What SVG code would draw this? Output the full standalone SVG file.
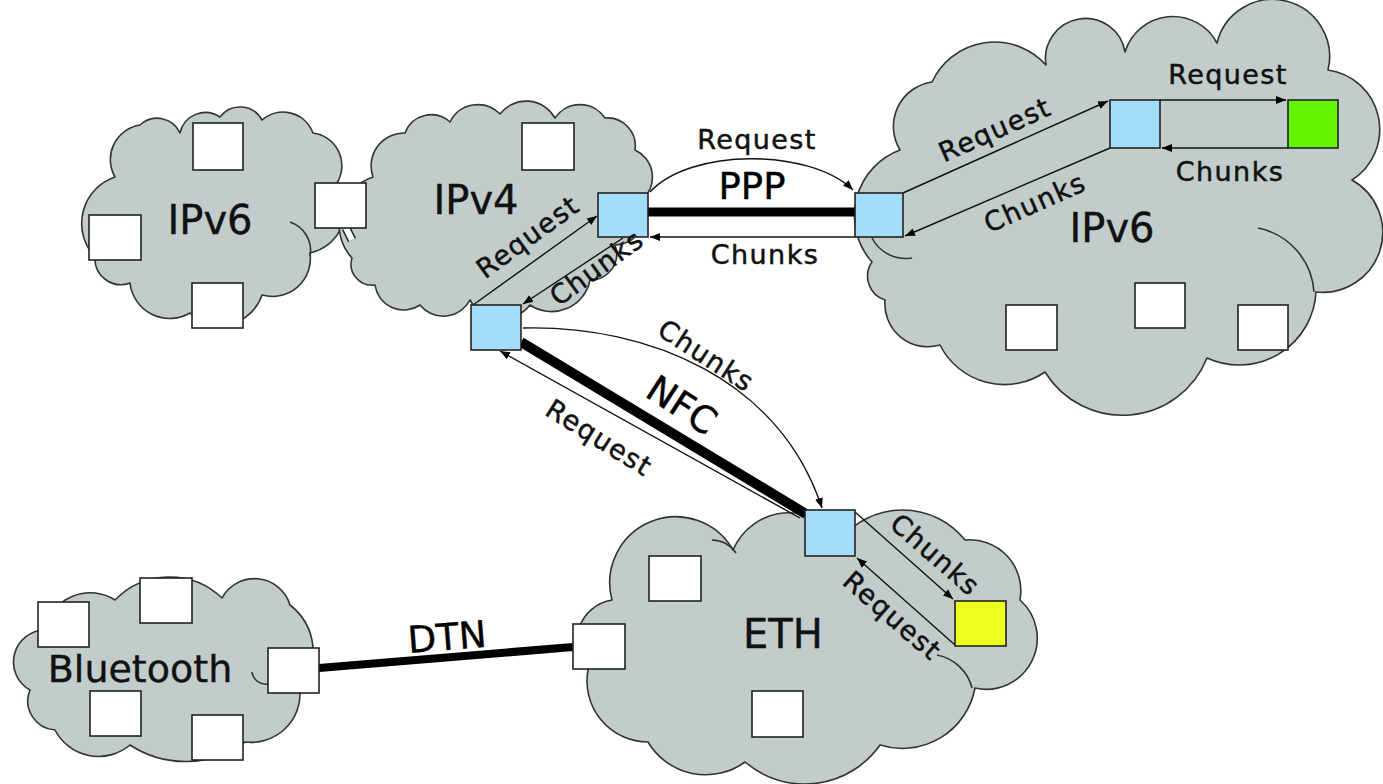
<svg xmlns="http://www.w3.org/2000/svg" width="1383" height="784" viewBox="0 0 1383 784">
<defs>
<style>
.cloud{fill:#c1cccb;stroke:#333;stroke-width:1.6;stroke-linejoin:round}
.curl{fill:none;stroke:#333;stroke-width:1.6}
.box{fill:#fff;stroke:#222;stroke-width:1.6}
.blue{fill:#a3ddf8;stroke:#222;stroke-width:1.6}
.green{fill:#66f500;stroke:#222;stroke-width:1.6}
.yellow{fill:#ecff1e;stroke:#222;stroke-width:1.6}
.thin{fill:none;stroke:#111;stroke-width:1.4}
.arr{marker-end:url(#ah)}
.thick{stroke:#000;fill:none}
.lbl{font-family:"DejaVu Sans",Verdana,sans-serif;font-size:27px;letter-spacing:1.4px;fill:#111;stroke:#111;stroke-width:0.5;text-anchor:middle}
.big{font-family:"DejaVu Sans",Verdana,sans-serif;font-size:40px;fill:#111;stroke:#111;stroke-width:0.4;text-anchor:middle}
.mid{font-family:"DejaVu Sans",Verdana,sans-serif;font-size:37px;fill:#000;stroke:#000;stroke-width:0.4;text-anchor:middle}
</style>
<marker id="ah" viewBox="0 0 10 10" refX="10" refY="5" markerWidth="10" markerHeight="10" markerUnits="userSpaceOnUse" orient="auto">
<path d="M0,1 L10,5 L0,9 z" fill="#000"/>
</marker>
</defs>
<rect width="1383" height="784" fill="#fff"/>

<g id="cloud-ipv6-left">
<path class="cloud" d="M95,257 A49 49 0 0 1 115,177 A35 35 0 0 1 140,125 A25 25 0 0 1 180,133 A26 26 0 0 1 220,117 A25 25 0 0 1 262,120 A32 32 0 0 1 313,133 A33 33 0 0 1 337,183 A45 45 0 0 1 310,253 A38 38 0 0 1 262,295 A44 44 0 0 1 190,313 A40 40 0 0 1 130,283 A26 26 0 0 1 95,257 Z"/>
<path class="curl" d="M290,222 A30 30 0 0 1 310,256"/>
<text class="big" x="210" y="234">IPv6</text>
<rect class="box" x="193" y="123" width="50" height="47"/>
<rect class="box" x="89" y="215" width="52" height="45"/>
<rect class="box" x="192" y="283" width="51" height="45"/>
</g>

<g id="cloud-ipv4">
<path class="cloud" d="M352,258 A50 50 0 0 1 373,177 A33 33 0 0 1 405,133 A28 28 0 0 1 450,122 A31 31 0 0 1 500,114 A33 33 0 0 1 555,118 A30 30 0 0 1 605,118 A28 28 0 0 1 635,150 A30 30 0 0 1 642,200 A31 31 0 0 1 615,245 A26 26 0 0 1 590,280 A39 39 0 0 1 530,305 A36 36 0 0 1 470,300 A30 30 0 0 1 420,305 A29 29 0 0 1 375,285 A21 21 0 0 1 352,258 Z"/>
<text class="big" x="476" y="214">IPv4</text>
<rect class="box" x="522" y="123" width="52" height="47"/>
</g>

<g id="cloud-ipv6-right">
<path class="cloud" d="M872,262 A70 70 0 0 1 900,150 A45 45 0 0 1 932,82 A69 69 0 0 1 1046,65 A40 40 0 0 1 1125,52 A50 50 0 0 1 1217,43 A57 57 0 0 1 1328,70 A60 60 0 0 1 1352,180 A60 60 0 0 1 1316,292 A77 77 0 0 1 1207,358 A91 91 0 0 1 1045,372 A72 72 0 0 1 940,345 A43 43 0 0 1 885,300 A25 25 0 0 1 872,262 Z"/>
<path class="curl" d="M1258,228 A70 70 0 0 1 1314,292"/>
<path class="curl" d="M872,238 A38 38 0 0 0 912,258"/>
<text class="big" x="1112" y="242">IPv6</text>
<rect class="box" x="1006" y="305" width="51" height="45"/>
<rect class="box" x="1135" y="283" width="50" height="45"/>
<rect class="box" x="1238" y="305" width="50" height="45"/>
</g>

<g id="cloud-eth">
<path class="cloud" d="M588,670 A42 42 0 0 1 612,600 A66 66 0 0 1 733,550 A61 61 0 0 1 840,540 A80 80 0 0 1 965,540 A51 51 0 0 1 1020,600 A51 51 0 0 1 975,688 A74 74 0 0 1 880,745 A92 92 0 0 1 745,762 A67 67 0 0 1 648,742 A61 61 0 0 1 588,670 Z"/>
<path class="curl" d="M937,655 A45 45 0 0 1 972,688"/>
<path class="curl" d="M712,540 A30 30 0 0 1 736,553"/>
<text class="big" x="783" y="648">ETH</text>
<rect class="box" x="649" y="556" width="52" height="45"/>
<rect class="box" x="752" y="691" width="51" height="46"/>
</g>

<g id="cloud-bluetooth">
<path class="cloud" d="M30,690 A32 32 0 0 1 45,630 A46 46 0 0 1 115,600 A76 76 0 0 1 222,598 A37 37 0 0 1 290,605 A60 60 0 0 1 300,690 A49 49 0 0 1 245,742 A101 101 0 0 1 130,745 A49 49 0 0 1 55,730 A29 29 0 0 1 30,690 Z"/>
<path class="curl" d="M252,672 A14 14 0 0 0 268,684"/>
<text class="big" x="140" y="682" style="font-size:38px">Bluetooth</text>
<rect class="box" x="38" y="602" width="51" height="45"/>
<rect class="box" x="140" y="578" width="52" height="45"/>
<rect class="box" x="90" y="691" width="51" height="45"/>
<rect class="box" x="192" y="715" width="51" height="45"/>
</g>

<g id="connectors">
<path d="M346,228 L352,240" stroke="#222" stroke-width="9" fill="none"/>
<path d="M346,228 L352,240" stroke="#fff" stroke-width="6" fill="none"/>
<path class="thick" d="M648,212 L855,212" stroke-width="9"/>
<path class="thin arr" d="M650,192 C690,148 810,148 853,190"/>
<path class="thin arr" d="M855,237 L650,237"/>
<path class="thin arr" d="M903,193 L1108,101"/>
<path class="thin arr" d="M1110,148 L905,236"/>
<path class="thin arr" d="M1160,100 L1286,100"/>
<path class="thin arr" d="M1288,148 L1162,148"/>
<path class="thin arr" d="M473,305 L597,216"/>
<path class="thin arr" d="M623,238 L523,304"/>
<path class="thick" d="M521,342 L806,514" stroke-width="10"/>
<path class="thin arr" d="M800,518 L500,351"/>
<path class="thin arr" d="M523,328 C650,325 780,380 822,508"/>
<path class="thin arr" d="M855,512 L953,599"/>
<path class="thin arr" d="M955,645 L857,558"/>
<path class="thick" d="M319,668 L573,647" stroke-width="8"/>
</g>

<g id="node-ipv6-gw"><rect class="box" x="315" y="183" width="51" height="45"/></g>
<g id="node-ipv4-ppp"><rect class="blue" x="598" y="193" width="50" height="44"/></g>
<g id="node-ipv4-nfc"><rect class="blue" x="471" y="305" width="50" height="45"/></g>
<g id="node-ipv6-ppp"><rect class="blue" x="855" y="193" width="48" height="44"/></g>
<g id="node-ipv6-relay"><rect class="blue" x="1110" y="100" width="50" height="48"/></g>
<g id="node-ipv6-target"><rect class="green" x="1288" y="100" width="50" height="48"/></g>
<g id="node-eth-nfc"><rect class="blue" x="805" y="510" width="50" height="46"/></g>
<g id="node-eth-target"><rect class="yellow" x="955" y="601" width="51" height="45"/></g>
<g id="node-eth-dtn"><rect class="box" x="573" y="624" width="52" height="45"/></g>
<g id="node-bt-dtn"><rect class="box" x="268" y="648" width="51" height="45"/></g>

<g id="labels">
<text class="lbl" x="757" y="149">Request</text>
<text class="mid" x="752" y="199">PPP</text>
<text class="lbl" x="765" y="264">Chunks</text>
<text class="lbl" transform="translate(995,130) rotate(-24)" x="0" y="9">Request</text>
<text class="lbl" transform="translate(1035,203) rotate(-24)" x="0" y="9">Chunks</text>
<text class="lbl" x="1228" y="84">Request</text>
<text class="lbl" x="1230" y="181">Chunks</text>
<text class="lbl" transform="translate(528,237) rotate(-36)" x="0" y="9">Request</text>
<text class="lbl" transform="translate(597,268) rotate(-36)" x="0" y="9">Chunks</text>
<text class="lbl" transform="translate(706,356) rotate(33)" x="0" y="9">Chunks</text>
<text class="mid" transform="translate(682,405) rotate(33)" x="0" y="13">NFC</text>
<text class="lbl" transform="translate(599,438) rotate(32)" x="0" y="9">Request</text>
<text class="lbl" transform="translate(935,555) rotate(41)" x="0" y="9">Chunks</text>
<text class="lbl" transform="translate(892,616) rotate(41)" x="0" y="9">Request</text>
<text class="mid" transform="translate(447,637) rotate(-4.5)" x="0" y="13">DTN</text>
</g>
</svg>
